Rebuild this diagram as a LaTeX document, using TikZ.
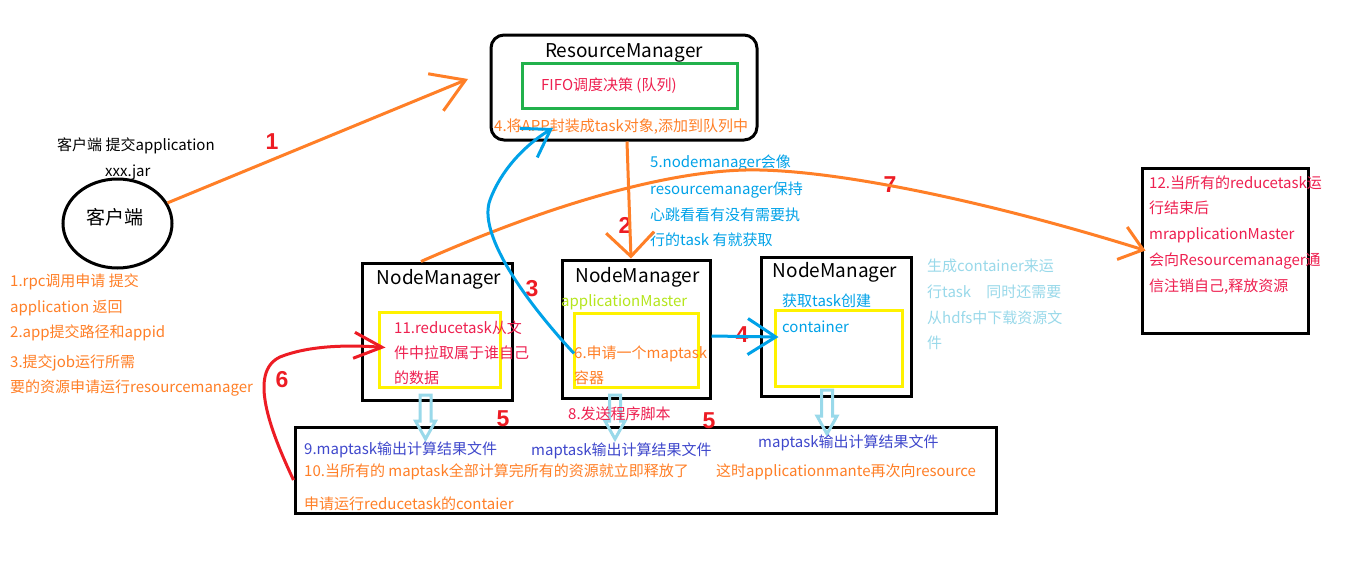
\documentclass[tikz,border=0pt]{standalone}
\usepackage{fontspec}
\setmainfont{Noto Sans CJK SC}
\newfontfamily\digitfont{Liberation Sans}
\usetikzlibrary{arrows.meta,shapes.geometric}
\definecolor{porange}{HTML}{FF7F27}
\definecolor{pred}{HTML}{ED1C24}
\definecolor{ptred}{HTML}{EE2050}
\definecolor{pblue}{HTML}{00A2E8}
\definecolor{plblue}{HTML}{99D9EA}
\definecolor{pgreen}{HTML}{22B14C}
\definecolor{pyellow}{HTML}{FFF200}
\definecolor{pyg}{HTML}{B5E61D}
\definecolor{pindigo}{HTML}{3F48CC}
\begin{document}
\begin{tikzpicture}[x=1pt,y=-1pt,
 txt/.style={anchor=base west,inner sep=0pt,font=\fontsize{15}{18}\selectfont},
 ttl/.style={anchor=base,inner sep=0pt,font=\fontsize{19}{22}\selectfont},
 num/.style={inner sep=0pt,font=\digitfont\bfseries\fontsize{23}{26}\selectfont,text=pred},
 box/.style={draw=black,line width=3pt,inner sep=0pt},
 ybox/.style={draw=pyellow,line width=3pt,inner sep=0pt},
 conn/.style={line width=3pt},
 harrow/.pic={\draw[plblue,line width=3pt,line join=miter] (-5.5,0) -- (5.5,0) -- (5.5,26) -- (10,26) -- (0,44) -- (-10,26) -- (-5.5,26) -- cycle;}
]
\fill[white] (0,0) rectangle (1360,582);
\useasboundingbox (0,0) rectangle (1360,582);

% boxes
\node[box,rounded corners=13pt,minimum width=266pt,minimum height=105pt] (rm) at (624,87.5) {};
\node[draw=pgreen,line width=3pt,inner sep=0pt,minimum width=215pt,minimum height=45pt] (gb) at (629.5,85.5) {};
\node[box,minimum width=150pt,minimum height=137pt] (nm1) at (437,331.5) {};
\node[ybox,minimum width=121pt,minimum height=75pt] (ny1) at (439.5,349.5) {};
\node[box,minimum width=148pt,minimum height=138pt] (nm2) at (636,329) {};
\node[ybox,minimum width=124pt,minimum height=74pt] (ny2) at (636,350) {};
\node[box,minimum width=150pt,minimum height=139pt] (nm3) at (836,326.5) {};
\node[ybox,minimum width=127pt,minimum height=76pt] (ny3) at (838.5,348) {};
\node[box,minimum width=166pt,minimum height=165pt] (rb) at (1225,250.5) {};
\node[box,minimum width=701pt,minimum height=86pt] (bb) at (645.5,470) {};
\node[box,ellipse,minimum width=109pt,minimum height=89pt] (cl) at (117.5,223.5) {};

% hollow arrows
\pic at (425.5,395) {harrow};
\pic at (615,395) {harrow};
\pic at (827,390) {harrow};

% texts
\node[txt] (ct1) at (57,150) {客户端 提交application};
\node[txt] (ct2) at (105,176) {xxx.jar};
\node[ttl] (clt) at (115,224) {客户端};
\node[txt,text=porange] (l1) at (10,286) {1.rpc调用申请 提交};
\node[txt,text=porange] (l2) at (10,312) {application 返回};
\node[txt,text=porange] (l3) at (10,337) {2.app提交路径和appid};
\node[txt,text=porange] (l4) at (10,367) {3.提交job运行所需};
\node[txt,text=porange] (l5) at (10,392) {要的资源申请运行resourcemanager};

\node[ttl] (rmt) at (624,57) {ResourceManager};
\node[txt,text=ptred] (fifo) at (541,90) {FIFO调度决策 (队列)};
\node[txt,text=porange] (t4) at (494,131) {4.将APP封装成task对象,添加到队列中};

\node[txt,text=pblue] (t5a) at (650,167) {5.nodemanager会像};
\node[txt,text=pblue] (t5b) at (650,194) {resourcemanager保持};
\node[txt,text=pblue] (t5c) at (650,220) {心跳看看有没有需要执};
\node[txt,text=pblue] (t5d) at (650,245) {行的task 有就获取};

\node[ttl] (nm1t) at (439,284) {NodeManager};
\node[ttl] (nm2t) at (637.5,282) {NodeManager};
\node[ttl] (nm3t) at (835,277) {NodeManager};
\node[txt,text=pyg] (am) at (561,306) {applicationMaster};

\node[txt,text=ptred] (t11a) at (394,333) {11.reducetask从文};
\node[txt,text=ptred] (t11b) at (394,358) {件中拉取属于谁自己};
\node[txt,text=ptred] (t11c) at (394,383) {的数据};

\node[txt,text=porange] (t6a) at (574,358) {6.申请一个maptask};
\node[txt,text=porange] (t6b) at (574,383) {容器};

\node[txt,text=pblue] (tga) at (782,306) {获取task创建};
\node[txt,text=pblue] (tgb) at (782,332) {container};

\node[txt,text=plblue] (lba) at (927,271) {生成container来运};
\node[txt,text=plblue] (lbb) at (927,297) {行task\quad 同时还需要};
\node[txt,text=plblue] (lbc) at (927,323) {从hdfs中下载资源文};
\node[txt,text=plblue] (lbd) at (927,348) {件};

\node[txt,text=ptred] (r1) at (1149,188) {12.当所有的reducetask运};
\node[txt,text=ptred] (r2) at (1149,213) {行结束后};
\node[txt,text=ptred] (r3) at (1149,239) {mrapplicationMaster};
\node[txt,text=ptred] (r4) at (1149,265) {会向Resourcemanager通};
\node[txt,text=ptred] (r5) at (1149,291) {信注销自己,释放资源};

\node[txt,text=ptred] (t8) at (568,419) {8.发送程序脚本};
\node[txt,text=pindigo] (b1) at (304,454) {9.maptask输出计算结果文件};
\node[txt,text=pindigo] (b2) at (531,455) {maptask输出计算结果文件};
\node[txt,text=pindigo] (b3) at (758,447) {maptask输出计算结果文件};
\node[txt,text=porange] (b4) at (304,476) {10.当所有的 maptask全部计算完所有的资源就立即释放了};
\node[txt,text=porange] (b5) at (716,476) {这时applicationmante再次向resource};
\node[txt,text=porange] (b6) at (304,509) {申请运行reducetask的contaier};

% numbers
\node[num] (n1) at (272,142) {1};
\node[num] (n2) at (625,225) {2};
\node[num] (n3) at (532,289) {3};
\node[num] (n4) at (742,335) {4};
\node[num] (n5a) at (503,419) {5};
\node[num] (n5b) at (709,421) {5};
\node[num] (n6) at (282,380) {6};
\node[num] (n7) at (890,185) {7};

% connectors
\coordinate (a1) at (468,79);
\coordinate (c3) at (553,128);
\coordinate (c7) at (760,170);
\draw[conn,porange,-{Straight Barb[length=32pt,width=40pt]}] (cl) -- (a1);
\draw[conn,porange,-{Straight Barb[length=24pt,width=48pt]}] ([xshift=3pt]rm.south) -- ([xshift=-5pt]nm2.north);
\draw[conn,porange,-{Straight Barb[length=22pt,width=34pt]}] ([xshift=-16pt]nm1.north) .. controls (560,200) and (680,168) .. (c7) .. controls (850,172) and (1000,205) .. ([xshift=5pt]rb.west);
\draw[conn,pblue,-{Straight Barb[length=26pt,width=34pt]}] (t6a.west) .. controls (520,295) and (478,232) .. (490,200) .. controls (501,170) and (525,145) .. (c3);
\draw[conn,pblue,-{Straight Barb[length=28pt,width=36pt]}] ([yshift=-7pt]nm2.east) -- ([xshift=5pt,yshift=11pt]ny3.west);
\draw[conn,pred,-{Straight Barb[length=28pt,width=26pt]}] ([yshift=-10pt]bb.west) .. controls (270,430) and (248,372) .. (280,357) .. controls (310,345) and (350,345) .. ([xshift=8pt,yshift=2pt]ny1.west);
\end{tikzpicture}
\end{document}
